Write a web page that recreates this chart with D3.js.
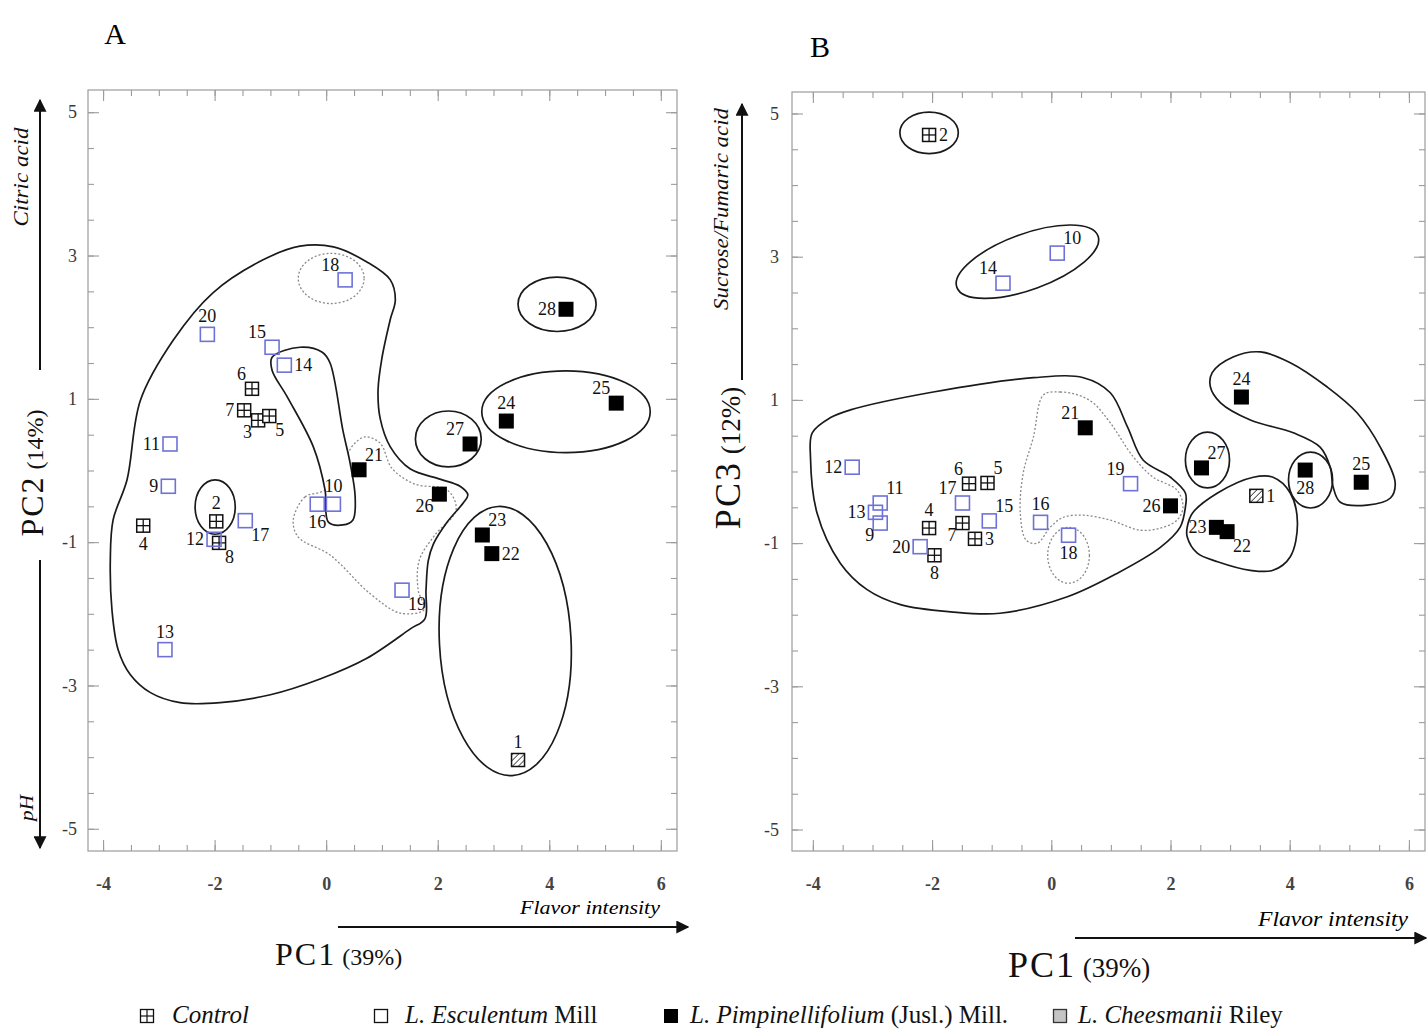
<!DOCTYPE html>
<html>
<head>
<meta charset="utf-8">
<script src="https://cdn.jsdelivr.net/npm/d3@7"></script>
<style>
  html, body { margin: 0; padding: 0; background: #fff; }
  svg { display: block; font-family: "Liberation Serif", "Times New Roman", serif; }
</style>
</head>
<body>
<svg id="chart" width="1427" height="1030"></svg>
<script>
// ---- Samples -------------------------------------------------------------
const sampleIds = [1, 2, 3, 4, 5, 6, 7, 8, 9, 10, 11, 12, 13, 14, 15, 16, 17, 18, 19, 20,
                   21, 22, 23, 24, 25, 26, 27, 28];
const sampleGroups = ["cheesmanii",
  "control", "control", "control", "control", "control", "control", "control",
  "esculentum", "esculentum", "esculentum", "esculentum", "esculentum", "esculentum",
  "esculentum", "esculentum", "esculentum", "esculentum", "esculentum", "esculentum",
  "pimpinellifolium", "pimpinellifolium", "pimpinellifolium", "pimpinellifolium",
  "pimpinellifolium", "pimpinellifolium", "pimpinellifolium", "pimpinellifolium"];

// Scores, panel A (PC1 vs PC2)
const pc1A = [3.44, -1.97, -1.22, -3.28, -1.02, -1.33, -1.47, -1.92, -2.83, 0.13, -2.80, -2.01, -2.89, -0.75,
              -0.97, -0.16, -1.45, 0.34, 1.36, -2.13, 0.59, 2.97, 2.80, 3.23, 5.20, 2.03, 2.58, 4.30];
const pc2A = [-4.04, -0.71, 0.70, -0.77, 0.76, 1.14, 0.84, -1.01, -0.22, -0.47, 0.37, -0.96, -2.50, 1.47,
              1.72, -0.47, -0.70, 2.66, -1.67, 1.90, 0.01, -1.16, -0.90, 0.69, 0.94, -0.33, 0.37, 2.25];
// Scores, panel B (PC1 vs PC3)
const pc1B = [3.44, -2.05, -1.28, -2.05, -1.07, -1.38, -1.49, -1.96, -2.87, 0.10, -2.87, -3.34, -2.95, -0.81,
              -1.04, -0.18, -1.49, 0.29, 1.33, -2.20, 0.57, 2.95, 2.77, 3.19, 5.20, 2.00, 2.52, 4.26];
const pc3B = [-0.34, 4.70, -0.94, -0.79, -0.16, -0.17, -0.72, -1.17, -0.72, 3.05, -0.44, 0.06, -0.57, 2.63,
              -0.69, -0.71, -0.44, -0.89, -0.17, -1.05, 0.61, -0.84, -0.78, 1.04, -0.15, -0.48, 0.05, 0.02];

// Side of each point on which its number is written
const labelSideA = ["n", "n", "sw", "s", "se", "nw", "w", "se", "w", "n", "w", "w", "n", "e",
                    "nw", "s", "se", "nw", "se", "n", "ne", "e", "ne", "n", "nw", "sw", "nw", "w"];
const labelSideB = ["e", "e", "e", "n", "ne", "nw", "sw", "s", "sw", "ne", "ne", "w", "w", "nw",
                    "ne", "n", "nw", "s", "nw", "w", "nw", "se", "w", "n", "n", "w", "ne", "s"];

// ---- Axis ticks ----------------------------------------------------------
const xMajorTicks = [-4, -2, 0, 2, 4, 6];
const xTickLabels = ["-4", "-2", "0", "2", "4", "6"];
const yMajorTicks = [-5, -3, -1, 1, 3, 5];
const yTickLabels = ["-5", "-3", "-1", "1", "3", "5"];

// ---- Cluster outlines (score units) --------------------------------------
const outlineA_main = [[-0.47, 3.13], [0.13, 3.12], [0.73, 2.91], [1.15, 2.66], [1.24, 2.38], [1.15, 2.11],
  [1.00, 1.57], [0.93, 1.12], [0.97, 0.72], [1.15, 0.33], [1.51, 0.02], [2.04, -0.12], [2.40, -0.22],
  [2.54, -0.34], [2.46, -0.45], [2.17, -0.72], [1.92, -1.03], [1.83, -1.26], [1.79, -1.67], [1.77, -2.07],
  [1.51, -2.21], [0.73, -2.62], [-0.11, -2.91], [-1.00, -3.13], [-1.90, -3.24], [-2.62, -3.24],
  [-3.15, -3.10], [-3.51, -2.85], [-3.73, -2.50], [-3.84, -1.95], [-3.87, -1.25], [-3.82, -0.69],
  [-3.57, -0.13], [-3.33, 0.98], [-2.74, 1.82], [-2.03, 2.48], [-1.13, 2.94]];
const outlineA_finger = [[-0.47, 1.72], [-0.07, 1.65], [0.07, 1.50], [0.30, 0.56], [0.43, 0.10],
  [0.52, -0.37], [0.48, -0.69], [0.30, -0.76], [0.04, -0.72], [-0.02, -0.27], [-0.23, 0.33],
  [-0.70, 1.03], [-0.97, 1.40], [-0.97, 1.58]];
const outlineA_dotted = [[-0.59, -0.69], [-0.38, -0.37], [-0.02, -0.27], [0.34, 0.17], [0.50, 0.37],
  [0.70, 0.47], [0.97, 0.38], [1.18, 0.03], [1.59, -0.19], [2.17, -0.27], [2.33, -0.55], [1.95, -0.90],
  [1.67, -1.25], [1.65, -1.67], [1.76, -1.94], [1.33, -1.99], [0.79, -1.72], [0.07, -1.18], [-0.50, -0.93]];
// [centre PC1, centre PC2, radius PC1, radius PC2, tilt in degrees]
const ellipsesA_solid = [[-1.99, -0.51, 0.36, 0.38, 0], [4.14, 2.32, 0.70, 0.38, 0],
  [4.30, 0.82, 1.51, 0.57, 0], [2.19, 0.44, 0.59, 0.39, 0], [3.21, -2.38, 1.18, 1.88, -3]];
const ellipsesA_dotted = [[0.09, 2.68, 0.59, 0.35, 0]];

const outlineB_main = [[-4.01, 0.54], [-3.71, 0.75], [-3.37, 0.86], [-1.98, 1.11], [-0.30, 1.31],
  [0.54, 1.31], [0.99, 1.10], [1.28, 0.62], [1.54, 0.16], [2.00, -0.08], [2.25, -0.30], [2.25, -0.50],
  [2.16, -0.78], [1.83, -1.06], [1.11, -1.42], [0.27, -1.75], [-0.86, -1.98], [-1.69, -1.96],
  [-2.53, -1.86], [-3.09, -1.65], [-3.54, -1.28], [-3.93, -0.58], [-4.04, 0.20]];
const outlineB_dotted = [[-0.13, 1.07], [0.15, 1.11], [0.44, 1.07], [0.70, 0.96], [0.99, 0.68],
  [1.38, 0.20], [1.71, -0.08], [2.11, -0.26], [2.21, -0.50], [2.11, -0.68], [1.83, -0.79], [1.49, -0.82],
  [0.99, -0.68], [0.54, -0.61], [0.20, -0.64], [-0.02, -0.78], [-0.23, -1.00], [-0.42, -0.96],
  [-0.52, -0.58], [-0.47, -0.02], [-0.30, 0.48]];
const outlineB_south = [[2.28, -0.78], [2.37, -0.58], [2.79, -0.30], [3.39, -0.08], [3.72, -0.08],
  [4.01, -0.30], [4.13, -0.72], [4.01, -1.19], [3.72, -1.38], [3.34, -1.38], [2.79, -1.26],
  [2.45, -1.14], [2.28, -0.91]];
const outlineB_east = [[2.70, 1.38], [3.05, 1.60], [3.51, 1.67], [4.01, 1.52], [4.63, 1.18], [5.13, 0.82],
  [5.52, 0.34], [5.77, -0.16], [5.69, -0.37], [5.30, -0.47], [4.85, -0.43], [4.73, -0.22], [4.68, 0.06],
  [4.51, 0.34], [4.06, 0.54], [3.34, 0.72], [2.84, 0.96], [2.67, 1.18]];
const ellipsesB_solid = [[-2.05, 4.73, 0.49, 0.29, 0], [-0.40, 2.93, 1.26, 0.39, -20],
  [2.62, 0.16, 0.37, 0.39, 0], [4.35, -0.12, 0.37, 0.39, 0]];
const ellipsesB_dotted = [[0.29, -1.17, 0.35, 0.39, 0]];

// ---- Legend ---------------------------------------------------------------
const legendGroups = ["control", "esculentum", "pimpinellifolium", "cheesmanii"];
const legendItalic = ["Control", "L. Esculentum", "L. Pimpinellifolium", "L. Cheesmanii"];
const legendRoman = ["", " Mill", " (Jusl.) Mill.", " Riley"];

// ---------------------------------------------------------------------------
const svg = d3.select("#chart");
const BLUE = "#6e72d8";
const TICK = "#9c9c9c";

const defs = svg.append("defs");
defs.append("pattern").attr("id", "hatch").attr("patternUnits", "userSpaceOnUse")
  .attr("width", 4.2).attr("height", 4.2).attr("patternTransform", "rotate(45)")
  .append("line").attr("x1", 0).attr("y1", 0).attr("x2", 0).attr("y2", 4.2)
  .attr("stroke", "#111").attr("stroke-width", 1.4);
defs.append("marker").attr("id", "arrow").attr("viewBox", "0 0 10 10")
  .attr("refX", 9).attr("refY", 5).attr("markerWidth", 13).attr("markerHeight", 13)
  .attr("markerUnits", "userSpaceOnUse").attr("orient", "auto")
  .append("path").attr("d", "M0,0 L10,5 L0,10 Z").attr("fill", "#111");

const labelOffsets = {
  n: [0, -12, "middle"], s: [0, 24, "middle"], e: [10, 6, "start"], w: [-10, 6, "end"],
  ne: [6, -9, "start"], nw: [-6, -9, "end"], se: [6, 20, "start"], sw: [-6, 18, "end"]
};

function drawMarker(g, group) {
  if (group === "esculentum") {
    g.append("rect").attr("x", -7).attr("y", -7).attr("width", 14).attr("height", 14)
      .attr("fill", "none").attr("stroke", BLUE).attr("stroke-width", 1.6);
  } else if (group === "pimpinellifolium") {
    g.append("rect").attr("x", -7.5).attr("y", -7.5).attr("width", 15).attr("height", 15)
      .attr("fill", "#000");
  } else if (group === "control") {
    g.append("rect").attr("x", -6.5).attr("y", -6.5).attr("width", 13).attr("height", 13)
      .attr("fill", "#fff").attr("stroke", "#111").attr("stroke-width", 1.5);
    g.append("line").attr("x1", 0).attr("x2", 0).attr("y1", -6.5).attr("y2", 6.5)
      .attr("stroke", "#111").attr("stroke-width", 1.3);
    g.append("line").attr("x1", -6.5).attr("x2", 6.5).attr("y1", 0).attr("y2", 0)
      .attr("stroke", "#111").attr("stroke-width", 1.3);
  } else {
    g.append("rect").attr("x", -6.5).attr("y", -6.5).attr("width", 13).attr("height", 13)
      .attr("fill", "#fff");
    g.append("rect").attr("x", -6.5).attr("y", -6.5).attr("width", 13).attr("height", 13)
      .attr("fill", "url(#hatch)").attr("stroke", "#111").attr("stroke-width", 1.5);
  }
}

function drawPanel(cfg) {
  const x = d3.scaleLinear().domain(cfg.xDomain).range([cfg.left, cfg.right]);
  const y = d3.scaleLinear().domain(cfg.yDomain).range([cfg.bottom, cfg.top]);
  const g = svg.append("g");

  // frame
  g.append("rect").attr("x", cfg.left).attr("y", cfg.top)
    .attr("width", cfg.right - cfg.left).attr("height", cfg.bottom - cfg.top)
    .attr("fill", "none").attr("stroke", TICK).attr("stroke-width", 1.2);

  const minorX = d3.range(-4, 6.001, 0.5);
  const minorY = d3.range(-5, 5.001, 0.5);
  const style = sel => {
    sel.select(".domain").remove();
    sel.selectAll("line").attr("stroke", TICK).attr("stroke-width", 1.1);
    sel.attr("font-family", null).attr("font-size", null);
  };
  const axes = [
    [d3.axisBottom(x), `translate(0,${cfg.bottom})`, minorX, xMajorTicks, xTickLabels, 26, true],
    [d3.axisTop(x), `translate(0,${cfg.top})`, minorX, xMajorTicks, null, 0, false],
    [d3.axisLeft(y), `translate(${cfg.left},0)`, minorY, yMajorTicks, yTickLabels, cfg.yPad, false],
    [d3.axisRight(y), `translate(${cfg.right},0)`, minorY, yMajorTicks, null, 0, false]
  ];
  axes.forEach(([axis, tr, minor, major, labels, pad, bold]) => {
    g.append("g").attr("transform", tr)
      .call(axis.tickValues(minor).tickSize(-6).tickFormat(""))
      .call(style);
    const ag = g.append("g").attr("transform", tr)
      .call(axis.tickValues(major).tickSize(-11).tickPadding(pad)
        .tickFormat(labels ? (d, i) => labels[i] : ""))
      .call(style);
    ag.selectAll("text").attr("fill", bold ? "#444" : "#3a3a3a").attr("font-size", 18)
      .attr("font-weight", bold ? "bold" : null);
  });

  // cluster outlines
  const line = d3.line().x(d => x(d[0])).y(d => y(d[1])).curve(d3.curveCatmullRomClosed.alpha(0.5));
  const kx = x(1) - x(0), ky = y(0) - y(1);
  const ellipse = (e, dotted) => g.append("ellipse")
    .attr("transform", `translate(${x(e[0])},${y(e[1])}) rotate(${e[4]})`)
    .attr("rx", e[2] * kx).attr("ry", e[3] * ky)
    .attr("fill", "none")
    .attr("stroke", dotted ? "#8a8a8a" : "#1a1a1a")
    .attr("stroke-width", dotted ? 1.3 : 1.7)
    .attr("stroke-dasharray", dotted ? "2,2" : null);
  cfg.dotted.forEach(o => g.append("path").attr("d", line(o)).attr("fill", "none")
    .attr("stroke", "#8a8a8a").attr("stroke-width", 1.3).attr("stroke-dasharray", "2,2"));
  cfg.dottedEllipses.forEach(e => ellipse(e, true));
  cfg.solid.forEach(o => g.append("path").attr("d", line(o)).attr("fill", "none")
    .attr("stroke", "#1a1a1a").attr("stroke-width", 1.7));
  (cfg.filled || []).forEach(o => g.append("path").attr("d", line(o)).attr("fill", "#fff")
    .attr("stroke", "#1a1a1a").attr("stroke-width", 1.7));
  cfg.solidEllipses.forEach(e => ellipse(e, false));

  // points
  const pts = sampleIds.map((id, i) => ({ id, group: sampleGroups[i], px: cfg.xs[i], py: cfg.ys[i], side: cfg.sides[i] }));
  g.selectAll("g.pt").data(pts).join("g").attr("class", "pt")
    .attr("transform", d => `translate(${x(d.px)},${y(d.py)})`)
    .each(function (d) { drawMarker(d3.select(this), d.group); });
  g.selectAll("text.lbl").data(pts).join("text").attr("class", "lbl")
    .attr("x", d => x(d.px) + labelOffsets[d.side][0])
    .attr("y", d => y(d.py) + labelOffsets[d.side][1])
    .attr("text-anchor", d => labelOffsets[d.side][2])
    .attr("font-size", 18).attr("fill", "#111")
    .text(d => d.id);
  return { x, y };
}

drawPanel({
  left: 88, right: 677, top: 90, bottom: 851,
  xDomain: [-4.27, 6.29], yDomain: [-5.31, 5.31], yPad: 11,
  xs: pc1A, ys: pc2A, sides: labelSideA,
  dotted: [outlineA_dotted], dottedEllipses: ellipsesA_dotted,
  solid: [outlineA_main], filled: [outlineA_finger], solidEllipses: ellipsesA_solid
});
drawPanel({
  left: 792, right: 1425, top: 92, bottom: 851,
  xDomain: [-4.35, 6.27], yDomain: [-5.30, 5.30], yPad: 13,
  xs: pc1B, ys: pc3B, sides: labelSideB,
  dotted: [outlineB_dotted], dottedEllipses: ellipsesB_dotted,
  solid: [outlineB_main, outlineB_south, outlineB_east], solidEllipses: ellipsesB_solid
});

// ---- Panel letters and axis titles ---------------------------------------
svg.append("text").attr("x", 115).attr("y", 44).attr("text-anchor", "middle")
  .attr("font-size", 30).text("A");
svg.append("text").attr("x", 820).attr("y", 57).attr("text-anchor", "middle")
  .attr("font-size", 30).text("B");

function arrow(x1, y1, x2, y2) {
  svg.append("line").attr("x1", x1).attr("y1", y1).attr("x2", x2).attr("y2", y2)
    .attr("stroke", "#111").attr("stroke-width", 2).attr("marker-end", "url(#arrow)");
}
function vTitle(x, y, big, small, bigSize, smallSize) {
  const t = svg.append("text").attr("transform", `translate(${x},${y}) rotate(-90)`)
    .attr("text-anchor", "middle").attr("fill", "#111");
  t.append("tspan").attr("font-size", bigSize).attr("letter-spacing", 2).text(big);
  t.append("tspan").attr("font-size", smallSize).text(" " + small);
}
function vItalic(x, y, txt, size, len) {
  svg.append("text").attr("transform", `translate(${x},${y}) rotate(-90)`)
    .attr("text-anchor", "middle").attr("font-style", "italic").attr("font-size", size)
    .attr("textLength", len).attr("lengthAdjust", "spacingAndGlyphs").attr("fill", "#111").text(txt);
}
function hTitle(x, y, big, small, bigSize, smallSize) {
  const t = svg.append("text").attr("x", x).attr("y", y).attr("fill", "#111");
  t.append("tspan").attr("font-size", bigSize).attr("letter-spacing", 2).text(big);
  t.append("tspan").attr("font-size", smallSize).text(" " + small);
}

// panel A
arrow(40, 370, 40, 100);
arrow(40, 560, 40, 848);
vItalic(28, 177, "Citric acid", 20, 99);
vItalic(33, 808, "pH", 18, 26);
vTitle(43, 473, "PC2", "(14%)", 32, 24);
arrow(338, 927, 688, 927);
svg.append("text").attr("x", 660).attr("y", 914).attr("text-anchor", "end")
  .attr("font-style", "italic").attr("font-size", 19).attr("textLength", 140)
  .attr("lengthAdjust", "spacingAndGlyphs").text("Flavor intensity");
hTitle(275, 965, "PC1", "(39%)", 32, 24);

// panel B
arrow(742, 380, 742, 104);
vItalic(728, 209, "Sucrose/Fumaric acid", 20, 202);
vTitle(740, 458, "PC3", "(12%)", 36, 27);
arrow(1075, 938, 1426, 938);
svg.append("text").attr("x", 1408).attr("y", 926).attr("text-anchor", "end")
  .attr("font-style", "italic").attr("font-size", 20).attr("textLength", 150)
  .attr("lengthAdjust", "spacingAndGlyphs").text("Flavor intensity");
hTitle(1008, 977, "PC1", "(39%)", 36, 27);

// ---- Legend ---------------------------------------------------------------
const legendX = [140, 374, 664, 1053];
const legendTextX = [172, 405, 690, 1078];
legendGroups.forEach((grp, i) => {
  const m = svg.append("g").attr("transform", `translate(${legendX[i] + 7},${1016})`);
  if (grp === "control") {
    m.append("rect").attr("x", -6.5).attr("y", -6.5).attr("width", 13).attr("height", 13)
      .attr("fill", "#fff").attr("stroke", "#111").attr("stroke-width", 1.3);
    m.append("line").attr("x1", 0).attr("x2", 0).attr("y1", -6.5).attr("y2", 6.5).attr("stroke", "#111").attr("stroke-width", 1.2);
    m.append("line").attr("x1", -6.5).attr("x2", 6.5).attr("y1", 0).attr("y2", 0).attr("stroke", "#111").attr("stroke-width", 1.2);
  } else if (grp === "esculentum") {
    m.append("rect").attr("x", -6.5).attr("y", -6.5).attr("width", 13).attr("height", 13)
      .attr("fill", "#fff").attr("stroke", "#111").attr("stroke-width", 1.3);
  } else if (grp === "pimpinellifolium") {
    m.append("rect").attr("x", -7).attr("y", -7).attr("width", 14).attr("height", 14).attr("fill", "#000");
  } else {
    m.append("rect").attr("x", -6.5).attr("y", -6.5).attr("width", 13).attr("height", 13)
      .attr("fill", "#c4c4c4").attr("stroke", "#333").attr("stroke-width", 1.3);
  }
  const t = svg.append("text").attr("x", legendTextX[i]).attr("y", 1023)
    .attr("font-size", 25).attr("fill", "#111");
  t.append("tspan").attr("font-style", "italic").text(legendItalic[i]);
  if (legendRoman[i]) t.append("tspan").text(legendRoman[i]);
});
</script>
</body>
</html>
